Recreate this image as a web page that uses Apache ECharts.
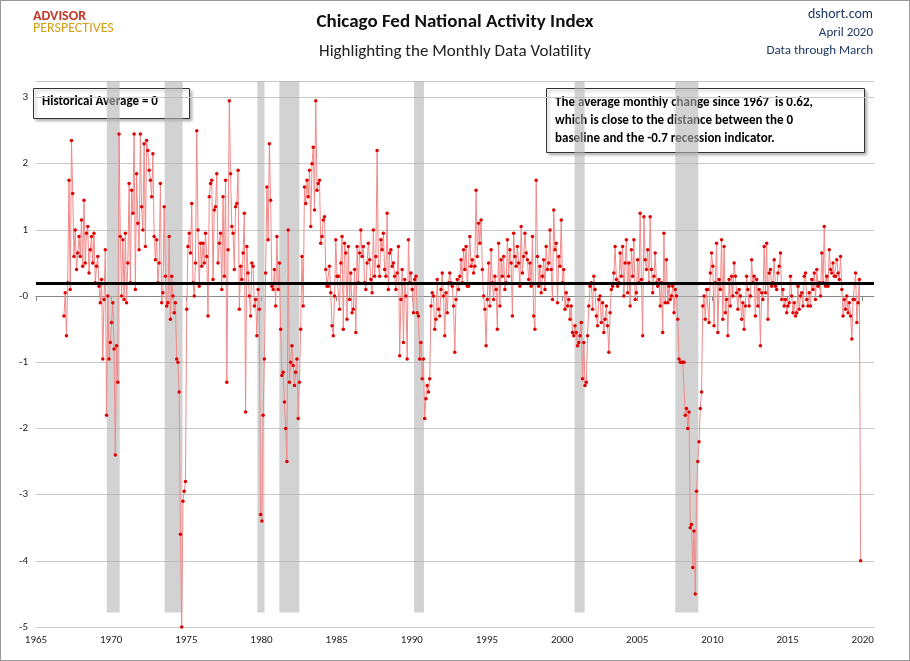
<!DOCTYPE html>
<html><head><meta charset="utf-8">
<script src="https://cdn.jsdelivr.net/npm/echarts@6/dist/echarts.min.js"></script>
<style>html,body{margin:0;padding:0;background:#fff}#c{width:908px;height:659px;border:1px solid #999}</style>
</head><body><div id="c"></div>
<script>
const firstX = 1966.86; // decimal-year position of the first plotted month
const cfnai = [
-0.3,0.05,-0.6,0.2,1.75,0.1,2.35,1.55,0.6,1.0,
0.4,0.65,0.9,0.6,1.15,0.45,1.45,0.5,0.95,1.05,0.35,0.7,
0.9,0.5,0.95,0.2,0.45,0.6,0.15,-0.1,0.25,-0.95,-0.05,0.7,
-1.8,0.0,-0.95,-0.7,-0.4,-0.1,-0.8,-2.4,-0.75,-1.3,2.45,0.9,
0.0,0.85,-0.05,0.95,-0.1,0.5,1.7,0.2,1.6,1.25,2.45,0.1,
1.85,1.1,0.7,2.45,1.35,1.0,2.3,0.75,2.35,2.2,1.9,1.75,
1.5,2.15,0.9,0.55,0.85,0.2,0.5,1.7,-0.1,0.05,1.35,0.3,
-0.15,-0.1,0.9,-0.35,0.3,0.0,-0.25,-0.1,-0.95,-1.0,-1.45,-3.6,
-5.0,-3.1,-2.95,-2.8,-0.2,0.75,0.95,0.65,1.4,0.2,0.0,0.5,
2.5,1.0,0.15,0.8,0.45,0.8,0.5,0.95,0.6,-0.3,1.5,1.7,
1.75,0.25,1.3,1.35,1.85,0.5,0.8,0.95,0.1,1.5,0.3,1.75,
-1.3,0.7,2.95,1.85,1.05,0.95,0.4,1.35,1.4,1.9,-0.2,0.45,
0.25,0.65,1.25,-1.75,0.75,0.35,0.0,-0.3,0.5,0.45,-0.15,-0.05,
-0.6,0.1,-0.2,-3.3,-3.4,-1.8,-0.95,0.35,1.65,0.85,2.3,1.45,
0.15,0.1,0.4,-0.15,0.9,0.1,0.5,-0.5,-1.2,-1.15,-1.6,-2.0,
-2.5,1.0,-1.3,-1.0,-0.75,-1.05,-1.35,-1.15,-0.95,-1.85,-1.3,-0.5,
0.6,-0.15,1.65,1.4,1.75,1.5,1.9,1.05,2.0,2.25,1.3,2.95,
1.6,1.7,1.75,0.8,0.9,1.15,1.2,0.4,0.15,0.15,0.45,0.05,
-0.45,-0.6,0.0,0.85,0.3,0.3,-0.2,0.5,0.9,-0.5,0.8,0.65,
-0.35,0.75,-0.05,0.35,-0.25,-0.2,0.4,-0.55,0.75,0.2,0.65,1.0,
0.6,0.75,0.2,0.1,0.5,0.8,0.55,0.25,0.05,1.0,0.3,0.6,
2.2,0.45,0.3,0.85,0.7,0.95,0.4,0.3,1.25,0.1,0.65,0.7,
0.45,0.5,0.3,0.1,0.35,0.75,-0.9,-0.05,0.4,-0.7,0.25,0.0,
-0.95,0.85,0.2,0.35,0.1,-0.25,0.25,0.3,-0.25,-0.3,-0.95,-0.7,
-1.25,-0.95,-1.85,-1.55,-1.35,-1.45,-1.25,-0.15,0.05,0.0,-0.5,-0.35,
0.25,-0.2,-0.3,0.1,0.35,0.0,-0.6,0.05,-0.25,0.2,0.35,0.2,
0.15,-0.15,-0.85,-0.05,0.25,0.1,0.3,0.55,0.2,0.7,0.4,0.75,
0.15,0.15,0.9,0.45,0.55,0.35,0.45,1.6,0.6,1.1,0.8,1.15,
0.4,0.0,-0.2,-0.75,-0.05,0.5,-0.15,0.7,0.2,-0.05,0.3,0.1,
-0.5,0.8,-0.15,0.55,0.3,0.6,0.1,0.2,0.85,0.3,0.7,0.5,
-0.3,0.95,0.6,0.45,0.75,0.5,0.15,1.05,0.35,0.6,0.95,0.65,
0.55,0.25,0.5,0.15,0.9,-0.3,-0.5,1.75,0.6,0.15,0.45,0.05,
0.3,0.55,0.1,0.75,0.4,0.5,1.0,0.4,-0.05,1.3,0.7,0.8,
-0.1,0.6,0.45,1.15,0.2,0.4,-0.2,0.05,-0.15,-0.05,-0.35,-0.15,
-0.55,-0.6,-0.45,-0.55,-0.75,-0.7,-0.6,-0.4,-1.25,-0.7,-1.35,-1.3,
-0.6,-0.15,0.15,0.2,-0.2,0.3,0.1,-0.3,-0.45,-0.05,0.0,-0.4,
-0.1,-0.55,-0.35,-0.15,-0.45,-0.85,-0.25,0.1,0.15,0.35,0.75,0.25,
0.15,0.2,0.65,0.3,0.75,0.0,0.5,0.85,0.05,0.5,-0.15,0.7,
0.3,0.85,-0.05,0.05,0.55,0.2,1.25,0.25,-0.6,1.2,0.55,0.4,
0.7,0.2,1.2,0.4,0.05,0.3,0.65,0.2,0.15,0.25,-0.15,0.2,
-0.55,0.95,-0.1,0.55,-0.1,0.15,-0.05,0.0,0.15,-0.25,0.1,0.0,
-0.35,-0.95,-1.0,-1.0,-1.0,-1.0,-1.8,-1.7,-2.0,-1.75,-3.5,-3.45,
-4.1,-3.55,-4.5,-2.95,-2.5,-2.2,-1.7,-1.45,-0.15,0.0,-0.35,0.1,
0.1,-0.4,0.35,0.65,0.45,-0.45,0.2,0.8,-0.55,0.25,0.1,0.85,
-0.35,0.75,-0.25,-0.05,-0.6,0.25,-0.15,0.3,0.0,0.5,0.3,0.05,
-0.2,0.1,0.0,-0.35,-0.1,-0.5,-0.15,0.3,0.1,-0.15,0.0,0.55,
0.2,0.3,-0.3,0.25,-0.15,0.1,-0.75,0.05,-0.05,0.75,0.05,0.8,
-0.35,0.35,0.4,0.15,0.2,0.55,0.15,0.1,0.35,0.45,0.65,-0.05,
0.1,-0.15,-0.05,-0.25,-0.15,-0.1,0.3,0.0,-0.25,-0.1,-0.3,-0.25,
0.15,-0.2,0.0,0.05,-0.15,0.3,0.35,-0.05,-0.15,0.05,-0.15,0.25,
0.1,0.35,-0.05,0.4,0.15,0.2,0.0,0.65,0.2,1.05,0.15,0.3,
0.15,0.7,0.4,0.35,0.5,0.3,0.3,0.55,0.35,0.25,0.6,0.1,
-0.3,-0.05,-0.2,0.0,-0.25,-0.1,-0.3,-0.65,-0.05,-0.05,0.35,-0.4,
-0.1,0.25,-4.0
];
const recessions = [[1969.71,1970.57],[1973.56,1974.75],[1979.73,1980.2],[1981.19,1982.52],[1990.15,1990.81],[2000.83,2001.5],[2007.53,2009.06]];
const baseline = 0.2;

const points = cfnai.map((v,i)=>[firstX+i/12, v]);
const chart = echarts.init(document.getElementById('c'));
const font = 'Calibri, Carlito, "Liberation Sans", sans-serif';
chart.setOption({
  animation:false,
  textStyle:{fontFamily:font},
  grid:{left:35,right:35,top:80,bottom:33},
  xAxis:{type:'value',min:1965,max:2020.75,interval:5,
    axisLine:{lineStyle:{color:'#888'}},axisTick:{show:true,lineStyle:{color:'#888'}},
    splitLine:{show:false},axisLabel:{color:'#222',fontSize:11,showMaxLabel:false,fontFamily:font,formatter:v=>String(v)}},
  yAxis:{type:'value',min:-5,max:3.25,interval:1,
    axisLine:{show:false},axisTick:{show:false},
    splitLine:{lineStyle:{color:'#c8c8c8'}},
    axisLabel:{color:'#222',fontSize:11,showMaxLabel:false,fontFamily:font,
      formatter:v=>v===0?'-0':String(v)}},
  series:[{type:'line',data:points,symbol:'circle',symbolSize:3.5,
    itemStyle:{color:'#e00000'},lineStyle:{color:'#f08a8a',width:1},
    markArea:{silent:true,itemStyle:{color:'rgba(180,180,180,0.6)'},
      data:recessions.map(r=>[{xAxis:r[0],yAxis:-4.78},{xAxis:r[1],yAxis:3.25}])},
    markLine:{silent:true,symbol:'none',label:{show:false},lineStyle:{color:'#000',width:3,type:'solid'},
      data:[{yAxis:baseline}]}
  }],
  graphic:[
    {type:'text',left:'center',top:12,style:{text:'Chicago Fed National Activity Index',font:'bold 19px '+font,fill:'#111'}},
    {type:'text',left:'center',top:42,style:{text:'Highlighting the Monthly Data Volatility',font:'17px '+font,fill:'#222'}},
    {type:'text',right:36,top:6,style:{text:'dshort.com',font:'14px '+font,fill:'#1f3864',align:'right'}},
    {type:'text',right:36,top:25,style:{text:'April 2020',font:'13px '+font,fill:'#1f3864',align:'right'}},
    {type:'text',right:36,top:43,style:{text:'Data through March',font:'13px '+font,fill:'#1f3864',align:'right'}},
    {type:'text',left:32,top:8,style:{text:'ADVISOR',font:'bold 14px '+font,fill:'#c0392b'}},
    {type:'text',left:32,top:20,style:{text:'PERSPECTIVES',font:'14px '+font,fill:'#d4a017'}},
    {type:'rect',left:32,top:87,shape:{width:156,height:30},style:{fill:'#fff',stroke:'#333',lineWidth:1,shadowBlur:3,shadowOffsetX:2,shadowOffsetY:2,shadowColor:'rgba(0,0,0,0.3)'}},
    {type:'text',left:41,top:94,style:{text:'Historical Average = 0',font:'bold 13px '+font,fill:'#000'}},
    {type:'rect',left:545,top:87,shape:{width:318,height:64},style:{fill:'#fff',stroke:'#333',lineWidth:1,shadowBlur:3,shadowOffsetX:2,shadowOffsetY:2,shadowColor:'rgba(0,0,0,0.3)'}},
    {type:'text',left:554,top:93,style:{text:'The average monthly change since 1967  is 0.62,\nwhich is close to the distance between the 0\nbaseline and the -0.7 recession indicator.',font:'bold 13px '+font,fill:'#000',lineHeight:18}}
  ]
});
</script></body></html>
